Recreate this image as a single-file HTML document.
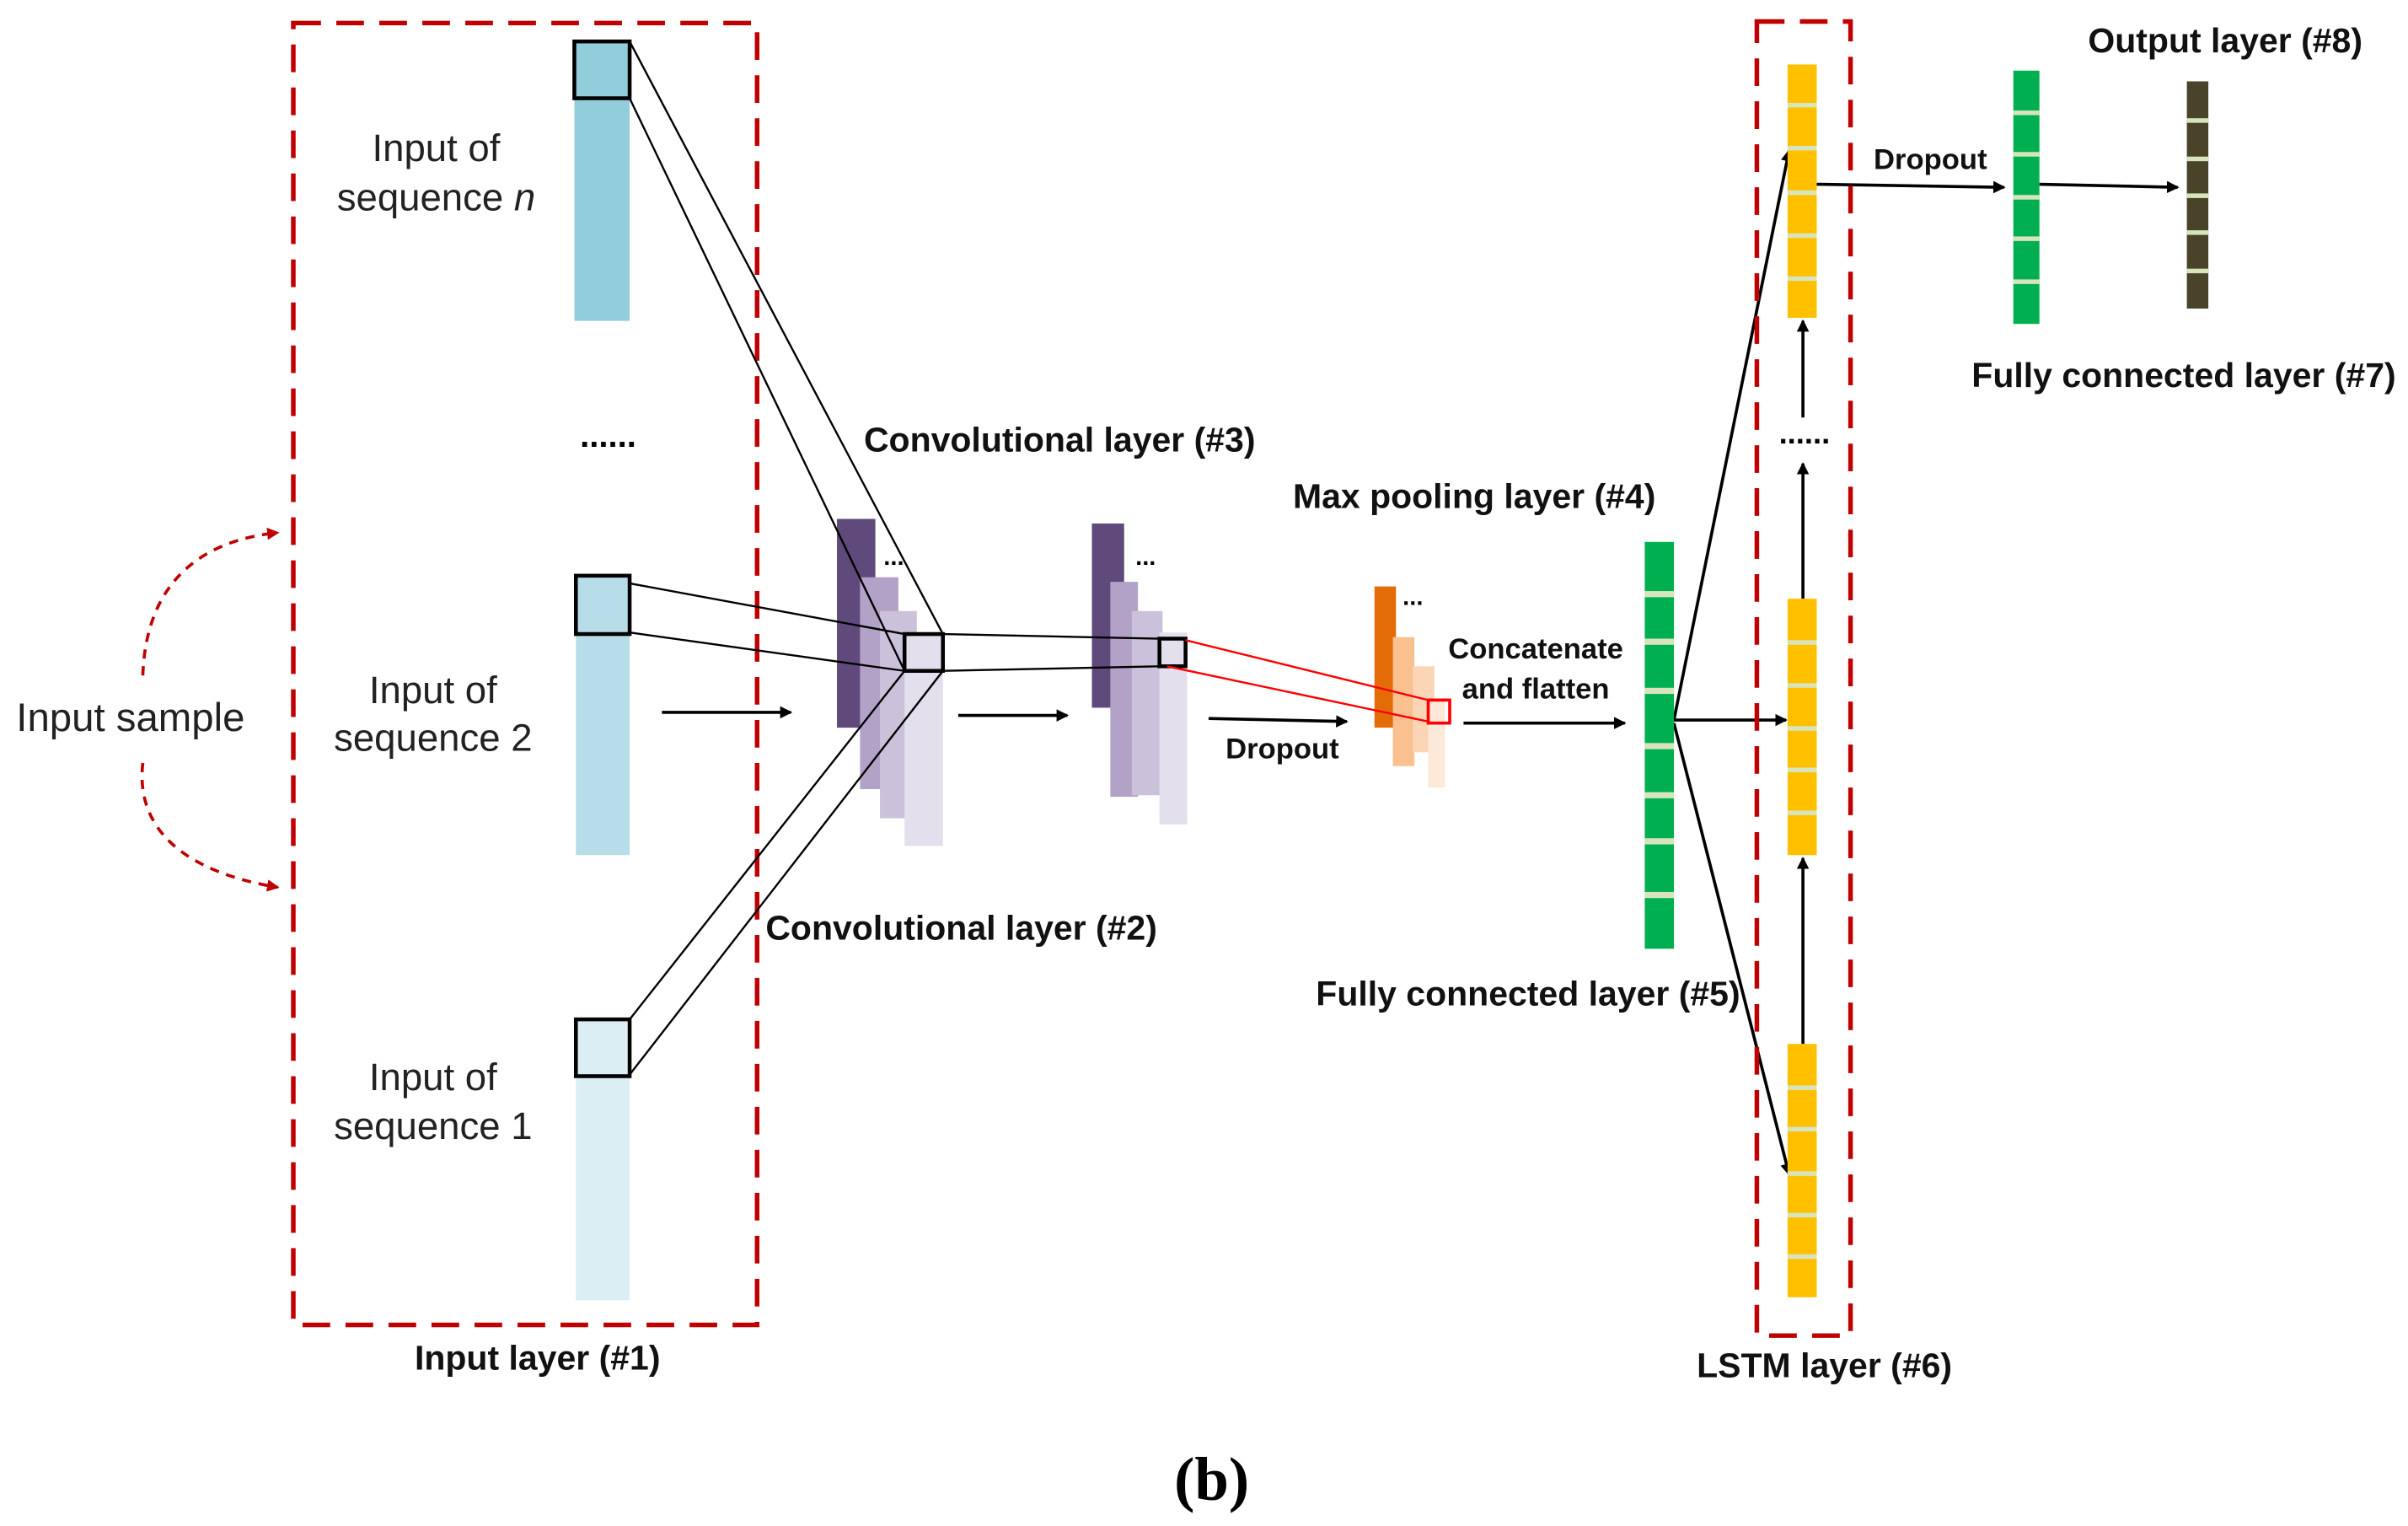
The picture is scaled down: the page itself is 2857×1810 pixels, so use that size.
<!DOCTYPE html>
<html><head><meta charset="utf-8"><style>html,body{margin:0;padding:0;background:#fff}svg{display:block}</style></head>
<body>
<svg width="2857" height="1810" viewBox="0 0 1568 994" preserveAspectRatio="none" xmlns="http://www.w3.org/2000/svg" font-family="'Liberation Sans', sans-serif">
<defs>
<marker id="ar" markerWidth="8" markerHeight="8" refX="7" refY="4" orient="auto" markerUnits="userSpaceOnUse"><path d="M0,0 L8,4 L0,8 z" fill="#000"/></marker>
<marker id="rr" markerWidth="8" markerHeight="8" refX="7" refY="4" orient="auto" markerUnits="userSpaceOnUse"><path d="M0,0 L8,4 L0,8 z" fill="#C00000"/></marker>
</defs>
<rect x="191" y="15" width="302" height="848" fill="none" stroke="#C00000" stroke-width="3" stroke-dasharray="18,10"/>
<rect x="374" y="64" width="36" height="145" fill="#92CDDC"/>
<rect x="374" y="27" width="36" height="37" fill="#92CDDC" stroke="#000" stroke-width="2.5"/>
<rect x="375" y="413" width="35" height="144" fill="#B6DDE8"/>
<rect x="375" y="375" width="35" height="38" fill="#B6DDE8" stroke="#000" stroke-width="2.5"/>
<rect x="375" y="701" width="35" height="146" fill="#DAEEF3"/>
<rect x="375" y="664" width="35" height="37" fill="#DAEEF3" stroke="#000" stroke-width="2.5"/>
<g font-size="25" fill="#222" text-anchor="middle">
<text x="284" y="105">Input of</text><text x="284" y="137">sequence <tspan font-style="italic">n</tspan></text>
<text x="282" y="458">Input of</text><text x="282" y="489">sequence 2</text>
<text x="282" y="710">Input of</text><text x="282" y="742">sequence 1</text>
<text x="85" y="476" font-size="26">Input sample</text>
</g>
<text x="396" y="291" font-size="22" font-weight="bold" text-anchor="middle">......</text>
<path d="M93,440 C95,380 130,352 181,347" fill="none" stroke="#C00000" stroke-width="2" stroke-dasharray="6,5" marker-end="url(#rr)"/>
<path d="M93,497 C88,540 120,568 181,578" fill="none" stroke="#C00000" stroke-width="2" stroke-dasharray="6,5" marker-end="url(#rr)"/>
<rect x="545" y="338" width="25" height="136" fill="#604A7B"/>
<rect x="560" y="376" width="25" height="138" fill="#B3A2C7"/>
<rect x="573" y="398" width="24" height="135" fill="#CCC1DA"/>
<rect x="589" y="412" width="25" height="139" fill="#E4DFEC"/>
<text x="582" y="368" font-size="16" font-weight="bold" text-anchor="middle">...</text>
<rect x="711" y="341" width="21" height="120" fill="#604A7B"/>
<rect x="723" y="379" width="18" height="140" fill="#B3A2C7"/>
<rect x="737" y="398" width="20" height="120" fill="#CCC1DA"/>
<rect x="755" y="412" width="18" height="125" fill="#E4DFEC"/>
<text x="746" y="368" font-size="16" font-weight="bold" text-anchor="middle">...</text>
<g stroke="#000" stroke-width="1.3" fill="none">
<line x1="410" y1="27" x2="614" y2="413"/>
<line x1="410" y1="64" x2="589" y2="437"/>
<line x1="410" y1="380" x2="589" y2="413"/>
<line x1="410" y1="412" x2="589" y2="437"/>
<line x1="410" y1="664" x2="589" y2="437"/>
<line x1="410" y1="700" x2="614" y2="437"/>
<line x1="614" y1="413" x2="755" y2="416"/>
<line x1="614" y1="437" x2="755" y2="434"/>
</g>
<rect x="589" y="413" width="25" height="24" fill="#E4DFEC" stroke="#000" stroke-width="2.5"/>
<rect x="755" y="416" width="17" height="18" fill="#E4DFEC" stroke="#000" stroke-width="2.5"/>
<rect x="895" y="382" width="14" height="92" fill="#E36C09"/>
<rect x="907" y="415" width="14" height="84" fill="#FAC090"/>
<rect x="920" y="434" width="14" height="56" fill="#FBD5B5"/>
<rect x="930" y="456" width="11" height="57" fill="#FDE9D9"/>
<text x="920" y="394" font-size="16" font-weight="bold" text-anchor="middle">...</text>
<line x1="772" y1="417" x2="930" y2="456" stroke="#f00" stroke-width="1.3"/>
<line x1="760" y1="434" x2="930" y2="470" stroke="#f00" stroke-width="1.3"/>
<rect x="930" y="456" width="14" height="15" fill="none" stroke="#f00" stroke-width="2"/>
<g stroke="#000" stroke-width="2" marker-end="url(#ar)">
<line x1="431" y1="464" x2="515" y2="464"/>
<line x1="624" y1="466" x2="695" y2="466"/>
<line x1="787" y1="468" x2="877" y2="470"/>
<line x1="953" y1="471" x2="1058" y2="471"/>
<line x1="1090" y1="469" x2="1165" y2="98"/>
<line x1="1090" y1="469" x2="1163" y2="469"/>
<line x1="1090" y1="471" x2="1165" y2="765"/>
<line x1="1174" y1="680" x2="1174" y2="559"/>
<line x1="1174" y1="390" x2="1174" y2="302"/>
<line x1="1174" y1="272" x2="1174" y2="209"/>
<line x1="1183" y1="120" x2="1305" y2="122"/>
<line x1="1328" y1="120" x2="1418" y2="122"/>
</g>
<rect x="1071" y="353" width="19" height="265" fill="#00B050"/>
<g fill="#D8E4BC">
<rect x="1071" y="385" width="19" height="4"/><rect x="1071" y="416" width="19" height="4"/><rect x="1071" y="448" width="19" height="4"/><rect x="1071" y="484" width="19" height="4"/><rect x="1071" y="516" width="19" height="4"/><rect x="1071" y="546" width="19" height="4"/><rect x="1071" y="581" width="19" height="4"/>
</g>
<rect x="1144" y="14" width="61" height="856" fill="none" stroke="#C00000" stroke-width="3" stroke-dasharray="18,10"/>
<g fill="#FFC000">
<rect x="1164" y="42" width="19" height="165"/><rect x="1164" y="390" width="19" height="167"/><rect x="1164" y="680" width="19" height="165"/>
</g>
<g fill="#D8E4BC">
<rect x="1164" y="67" width="19" height="3"/><rect x="1164" y="95" width="19" height="3"/><rect x="1164" y="124" width="19" height="3"/><rect x="1164" y="152" width="19" height="3"/><rect x="1164" y="180" width="19" height="3"/>
<rect x="1164" y="417" width="19" height="3"/><rect x="1164" y="445" width="19" height="3"/><rect x="1164" y="473" width="19" height="3"/><rect x="1164" y="500" width="19" height="3"/><rect x="1164" y="528" width="19" height="3"/>
<rect x="1164" y="707" width="19" height="3"/><rect x="1164" y="734" width="19" height="3"/><rect x="1164" y="763" width="19" height="3"/><rect x="1164" y="790" width="19" height="3"/><rect x="1164" y="817" width="19" height="3"/>
</g>
<text x="1175" y="289" font-size="20" font-weight="bold" text-anchor="middle">......</text>
<rect x="1311" y="46" width="17" height="165" fill="#00B050"/>
<g fill="#D8E4BC"><rect x="1311" y="72" width="17" height="3"/><rect x="1311" y="99" width="17" height="3"/><rect x="1311" y="127" width="17" height="3"/><rect x="1311" y="154" width="17" height="3"/><rect x="1311" y="182" width="17" height="3"/></g>
<rect x="1424" y="53" width="14" height="148" fill="#494429"/>
<g fill="#D8E4BC"><rect x="1424" y="77" width="14" height="3"/><rect x="1424" y="102" width="14" height="3"/><rect x="1424" y="126" width="14" height="3"/><rect x="1424" y="150" width="14" height="3"/><rect x="1424" y="175" width="14" height="3"/></g>
<g font-weight="bold" font-size="22.5" fill="#111" text-anchor="middle">
<text x="1449" y="34">Output layer (#8)</text>
<text x="1422" y="252">Fully connected layer (#7)</text>
<text x="690" y="294">Convolutional layer (#3)</text>
<text x="960" y="331">Max pooling layer (#4)</text>
<text x="626" y="612">Convolutional layer (#2)</text>
<text x="995" y="655">Fully connected layer (#5)</text>
<text x="350" y="892">Input layer (#1)</text>
<text x="1188" y="897">LSTM layer (#6)</text>
</g>
<g font-weight="bold" font-size="19" fill="#111" text-anchor="middle">
<text x="835" y="494">Dropout</text>
<text x="1257" y="110">Dropout</text>
<text x="1000" y="429">Concatenate</text>
<text x="1000" y="455">and flatten</text>
</g>
<text x="789" y="977" font-family="'Liberation Serif', serif" font-weight="bold" font-size="40" text-anchor="middle">(b)</text>
</svg>
</body></html>
